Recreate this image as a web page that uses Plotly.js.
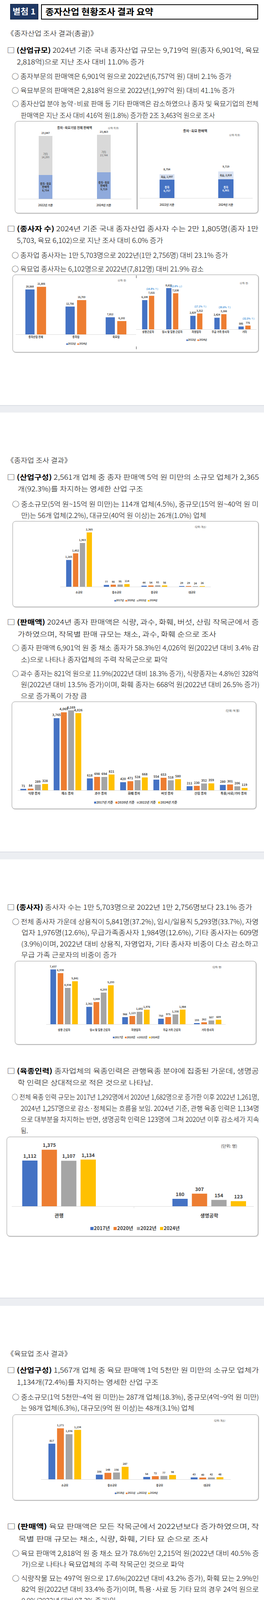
<!DOCTYPE html>
<html><head><meta charset="utf-8">
<script src="https://cdn.plot.ly/plotly-3.0.1.min.js"></script>
<style>
html,body{margin:0;padding:0;background:#fff;}
#page{position:relative;width:675px;height:6685px;overflow:hidden;background:#fff;font-family:"Noto Sans CJK KR","Noto Sans",sans-serif;color:#000;}
.ln{position:absolute;white-space:nowrap;line-height:1;transform-origin:0 50%;font-weight:300;}
.ln b{font-weight:700;}
.box{position:absolute;box-sizing:border-box;border:1.3px solid #9b9b9b;border-radius:8px;box-shadow:1px 1px 2px rgba(0,0,0,0.25);background:#fff;}
.band{position:absolute;left:0;width:675px;background:#eceef2;border-top:2px solid #dcdfe5;box-sizing:border-box;}
.chart{position:absolute;}
.rect{position:absolute;box-sizing:border-box;}
</style></head><body><div id="page"></div>
<script>
// ================= DATA =================
// 종자·육묘기업 전체 판매액 (억 원)
const totalSalesYears = ['2022년 기준', '2024년 기준'];
const totalSalesSeedSeedling = [8754, 9719];
const totalSalesOther = [14293, 13744];
// 종자·육묘 판매액 (억 원)
const salesYears = ['2022년 기준', '2024년 기준'];
const seedSales = [6757, 6901];
const seedlingSales = [1997, 2818];
// 종사자 수 (명)
const workerYears = ['2022년', '2024년'];
const workerIndustry = ['종자산업 전체', '종자업', '육묘업'];
const workerIndustry2022 = [20568, 12756, 7812];
const workerIndustry2024 = [21805, 15703, 6102];
const workerTypes = ['상용근로자', '임시 및 일용 근로자', '자영업자', '무급 가족 종사자', '기타'];
const workerType2022 = [6108, 8622, 2829, 2424, 585];
const workerType2024 = [7015, 7538, 3312, 3166, 775];
const workerTypeChange = ['(14.8% ↑)', '(12.6% ↓)', '(17.1% ↑)', '(30.6% ↑)', '(32.5% ↑)'];
// 종자업 산업구성 (개소)
const seedYears = ['2017년', '2020년', '2022년', '2024년'];
const firmSizes = ['소규모', '중소규모', '중규모', '대규모'];
const seedFirms2017 = [1165, 77, 44, 29];
const seedFirms2020 = [1452, 90, 54, 29];
const seedFirms2022 = [1903, 95, 61, 24];
const seedFirms2024 = [2365, 114, 56, 26];
// 종자 작목별 판매액 (억 원)
const seedSalesYears = ['2017년 기준', '2020년 기준', '2022년 기준', '2024년 기준'];
const seedCrops = ['식량 종자', '채소 종자', '과수 종자', '화훼 종자', '버섯 종자', '산림 종자', '특용/사료/기타 종자'];
const seedCrop2017 = [71, 3765, 618, 420, 554, 211, 280];
const seedCrop2020 = [84, 4069, 698, 471, 653, 230, 301];
const seedCrop2022 = [289, 4169, 694, 528, 518, 352, 206];
const seedCrop2024 = [328, 4026, 821, 668, 580, 359, 119];
// 종자업 종사자 (명)
const seedWorkerTypes = ['상용 근로자', '임시 및 일용 근로자', '자영업자', '무급 가족 근로자', '기타 종사자'];
const seedWorker2017 = [7437, 2361, 966, 750, 155];
const seedWorker2020 = [6930, 3009, 1123, 975, 262];
const seedWorker2022 = [4934, 4293, 1692, 1330, 507];
const seedWorker2024 = [5841, 5293, 1976, 1984, 609];
// 육종인력 (명)
const breederTypes = ['관행', '생명공학'];
const breeder2017 = [1112, 180];
const breeder2020 = [1375, 307];
const breeder2022 = [1107, 154];
const breeder2024 = [1134, 123];
// 육묘업 산업구성 (개소)
const seedlingYears = ['2018년', '2021년', '2022년', '2024년'];
const seedlingFirms2018 = [817, 106, 54, 43];
const seedlingFirms2021 = [1171, 148, 72, 40];
const seedlingFirms2022 = [1036, 156, 77, 42];
const seedlingFirms2024 = [1134, 287, 98, 48];
// 육묘 작목별 판매액 (억 원)
const seedlingCrops = ['식량', '채소', '화훼', '기타'];
const seedlingCrop2018 = [257, 1334, 42, 0];
const seedlingCrop2021 = [286, 1564, 114, 25];
const seedlingCrop2022 = [347, 1577, 61, 12];
const seedlingCrop2024 = [497, 2215, 82, 24];
// 육묘업 종사자 (명)
const seedlingWorkerTypes = ['상용 근로자', '임시 및 일용 근로자', '자영업자', '무급 가족 근로자', '기타'];
const seedlingWorker2018 = [1036, 2316, 922, 948, 73];
const seedlingWorker2021 = [1538, 3447, 1172, 1179, 101];
const seedlingWorker2022 = [1174, 4329, 1137, 1094, 78];
const seedlingWorker2024 = [1174, 2245, 1336, 1181, 166];
const seedlingWorkerUnlabeled = [[0, 1]];
// 생산/품질관리 전문인력 (명)
const expertYears = ['2018년', '2021년', '2022년', '2024년'];
const expertCounts = [2849, 3879, 3737, 3827];

// ================= HELPERS =================
const page = document.getElementById('page');
const FONT = '"Noto Sans CJK KR", "Noto Sans", sans-serif';
const COL = {blue:'#4472C4', orange:'#ED7D31', gray:'#A5A5A5', yellow:'#FFC000'};
const fmt = v => v.toLocaleString('en-US');

function el(cls, x0, y0, x1, y1, style) {
  const d = document.createElement('div'); d.className = cls;
  Object.assign(d.style, {left:x0+'px', top:y0+'px', width:(x1-x0)+'px', height:(y1-y0)+'px'}, style||{});
  page.appendChild(d); return d;
}
function ln(y, x0, x1, fs, html, opt) {
  opt = opt || {};
  const d = document.createElement('div'); d.className = 'ln';
  d.style.left = x0 + 'px'; d.style.top = (y - 0.57*fs) + 'px'; d.style.fontSize = fs + 'px';
  if (opt.bold) d.style.fontWeight = '700';
  if (opt.color) d.style.color = opt.color;
  d.innerHTML = html; d.dataset.w = x1 - x0;
  page.appendChild(d); return d;
}
function legendText(names, colors, fs) {
  return names.map((n, i) => '<span style="color:' + colors[i] + ';font-size:' + (fs*0.8).toFixed(1) + 'px">■</span>' + n).join('\u00a0\u00a0\u00a0');
}

function chart(o) {
  const [bx0, by0, bx1, by1] = o.box, [px0, py0, px1, py1] = o.plot;
  const div = el('chart', bx0, by0, bx1, by1);
  const PX = X => (X - px0) / (px1 - px0), PY = Y => (py1 - Y) / (py1 - py0);
  const ann = [];
  const addP = (X, Y, text, size, extra) => ann.push(Object.assign({
    xref:'paper', yref:'paper', x:PX(X), y:PY(Y), text:text, showarrow:false,
    xanchor:'center', yanchor:'middle', font:{family:FONT, size:size, color:'#404040'}}, extra||{}));
  if (o.unit) addP(o.unit[0], o.unit[1], o.unit[2], o.unit[3], {font:{family:FONT,size:o.unit[3],color:'#404040',weight:o.unitBold?700:400}});
  if (o.title) addP(o.title[0], o.title[1], o.title[2], o.title[3], {font:{family:FONT,size:o.title[3],color:'#404040',weight:700}});
  if (o.legend) addP(o.legend.x, o.legend.y, legendText(o.legend.names, o.legend.colors, o.legend.fs), o.legend.fs,
      {font:{family:FONT,size:o.legend.fs,color:'#404040',weight:700}});
  (o.extra || []).forEach(a => ann.push(a));
  const layout = {
    width: bx1 - bx0, height: by1 - by0,
    margin: {l: px0 - bx0, r: bx1 - px1, t: py0 - by0, b: by1 - py1, pad: 0},
    paper_bgcolor: 'rgba(0,0,0,0)', plot_bgcolor: 'rgba(0,0,0,0)',
    barmode: o.mode || 'group', bargap: o.bargap, bargroupgap: o.bgg || 0,
    showlegend: false, font: {family: FONT},
    xaxis: {type:'category', showline:true, linecolor:'#d9d9d9', linewidth:1, showgrid:false, zeroline:false,
      ticks: o.ticks ? 'outside' : '', ticklen: o.ticks || 0, tickcolor:'#d9d9d9', tickwidth:1,
      tickfont: {family:FONT, size:o.xfs, color:o.xcolor || '#404040', weight:700},
      ticklabelstandoff: o.xstand, fixedrange: true, automargin: false},
    yaxis: {range: [0, o.ymax], visible: false, fixedrange: true},
    annotations: ann
  };
  if (o.range) layout.xaxis.range = o.range;
  if (o.ticks) layout.xaxis.tickson = 'boundaries';
  Plotly.newPlot(div, o.traces, layout, {staticPlot: true, displayModeBar: false});
}
function barSeries(cats, series, lfs, noLabel, lcolor) {
  return series.map((s, si) => ({
    type:'bar', x:cats, y:s.vals, name:s.name, marker:{color:s.color, line:{width:0}},
    text: s.vals.map((v, ci) => (noLabel || []).some(p => p[0] === si && p[1] === ci) ? '' : fmt(v)),
    textposition:'outside', textangle:0, constraintext:'none', cliponaxis:false,
    textfont:{family:FONT, size:lfs, color:lcolor || '#404040', weight:700}, hoverinfo:'skip'
  }));
}
const four = [COL.blue, COL.orange, COL.gray, COL.yellow];

// ================= PAGE DECOR =================
[[1037,1056],[2180,2200],[3322,3343],[4466,4487],[5610,5630]].forEach(b => el('band', 0, b[0], 675, b[1]));

function header(y0, y1, label, title, titleRight) {
  el('rect', 26, y0, 98, y1, {background:'#1f3864', border:'1px solid #0d1a33'});
  ln((y0+y1)/2, 32, 91, 20, label, {bold:true, color:'#fff'});
  el('rect', 105, y0+1, 660, y1, {border:'2px solid #000', background:'#fff'});
  ln((y0+y1)/2, 116, titleRight, 22, title, {bold:true});
}
header(10, 50, '별첨 1', '종자산업 현황조사 결과 요약', 392);

// ================= TEXT =================
const FS = 17.5;
const T = [
 [86, 17, 250, '《종자산업 조사 결과(총괄)》'],
 [129, 18, 663, '□ <b>(산업규모)</b> 2024년 기준 국내 종자산업 규모는 9,719억 원(종자 6,901억, 육묘'],
 [159, 43, 369, '2,818억)으로 지난 조사 대비 11.0% 증가'],
 [196, 30, 592, '○ 종자부문의 판매액은 6,901억 원으로 2022년(6,757억 원) 대비 2.1% 증가'],
 [232, 30, 600, '○ 육묘부문의 판매액은 2,818억 원으로 2022년(1,997억 원) 대비 41.1% 증가'],
 [266, 31, 661, '○ 종자산업 분야 농약·비료 판매 등 기타 판매액은 감소하였으나 종자 및 육묘기업의 전체'],
 [296, 52.5, 549, '판매액은 지난 조사 대비 416억 원(1.8%) 증가한 2조 3,463억 원으로 조사'],
 [586, 18, 661, '□ <b>(종사자 수)</b> 2024년 기준 국내 종자산업 종사자 수는 2만 1,805명(종자 1만'],
 [616, 43, 417, '5,703, 육묘 6,102)으로 지난 조사 대비 6.0% 증가'],
 [654, 30, 583, '○ 종자업 종사자는 1만 5,703명으로 2022년(1만 2,756명) 대비 23.1% 증가'],
 [689, 30, 521, '○ 육묘업 종사자는 6,102명으로 2022년(7,812명) 대비 21.9% 감소'],
 // page 2
 [1179, 17, 183, '《종자업 조사 결과》'],
 [1222, 18, 662, '□ <b>(산업구성)</b> 2,561개 업체 중 종자 판매액 5억 원 미만의 소규모 업체가 2,365'],
 [1252, 45, 366, '개(92.3%)를 차지하는 영세한 산업 구조'],
 [1291, 31, 661, '○ 중소규모(5억 원~15억 원 미만)는 114개 업체(4.5%), 중규모(15억 원~40억 원 미'],
 [1320, 54, 527, '만)는 56개 업체(2.2%), 대규모(40억 원 이상)는 26개(1.0%) 업체'],
 [1593, 18, 662, '□ <b>(판매액)</b> 2024년 종자 판매액은 식량, 과수, 화훼, 버섯, 산림 작목군에서 증'],
 [1624, 45, 553, '가하였으며, 작목별 판매 규모는 채소, 과수, 화훼 순으로 조사'],
 [1659, 31, 662, '○ 종자 판매액 6,901억 원 중 채소 종자가 58.3%인 4,026억 원(2022년 대비 3.4% 감'],
 [1689, 52.5, 428, '소)으로 나타나 종자업체의 주력 작목군으로 파악'],
 [1725, 31, 661, '○ 과수 종자는 821억 원으로 11.9%(2022년 대비 18.3% 증가), 식량종자는 4.8%인 328억'],
 [1753, 52.5, 663, '원(2022년 대비 13.5% 증가)이며, 화훼 종자는 668억 원(2022년 대비 26.5% 증가)'],
 [1782, 52.5, 222, '으로 증가폭이 가장 큼'],
 // page 3
 [2323, 18, 645, '□ <b>(종사자)</b> 종사자 수는 1만 5,703명으로 2022년 1만 2,756명보다 23.1% 증가'],
 [2360, 31, 661, '○ 전체 종사자 가운데 상용직이 5,841명(37.2%), 임시/일용직 5,293명(33.7%), 자영'],
 [2388, 55, 661, '업자 1,976명(12.6%), 무급가족종사자 1,984명(12.6%), 기타 종사자는 609명'],
 [2417, 54, 661, '(3.9%)이며, 2022년 대비 상용직, 자영업자, 기타 종사자 비중이 다소 감소하고'],
 [2445, 54, 298, '무급 가족 근로자의 비중이 증가'],
 [2742, 18, 662, '□ <b>(육종인력)</b> 종자업체의 육종인력은 관행육종 분야에 집중된 가운데, 생명공'],
 [2772, 45, 391, '학 인력은 상대적으로 적은 것으로 나타남.'],
 [2809, 30, 662, '○ 전체 육종 인력 규모는 2017년 1,292명에서 2020년 1,682명으로 증가한 이후 2022년 1,261명,'],
 [2837.5, 52.5, 662, '2024년 1,257명으로 감소·정체되는 흐름을 보임. 2024년 기준, 관행 육종 인력은 1,134명'],
 [2866, 52.5, 662, '으로 대부분을 차지하는 반면, 생명공학 인력은 123명에 그쳐 2020년 이후 감소세가 지속'],
 [2895, 52.5, 71, '됨.'],
 // page 4
 [3466, 17, 183, '《육묘업 조사 결과》'],
 [3508, 18, 662, '□ <b>(산업구성)</b> 1,567개 업체 중 육묘 판매액 1억 5천만 원 미만의 소규모 업체가'],
 [3538.6, 43, 405, '1,134개(72.4%)를 차지하는 영세한 산업 구조'],
 [3577, 31, 662, '○ 중소규모(1억 5천만~4억 원 미만)는 287개 업체(18.3%), 중규모(4억~9억 원 미만)'],
 [3605, 52.5, 496, '는 98개 업체(6.3%), 대규모(9억 원 이상)는 48개(3.1%) 업체'],
 [3908, 18, 662, '□ <b>(판매액)</b> 육묘 판매액은 모든 작목군에서 2022년보다 증가하였으며, 작'],
 [3940, 46.5, 532, '목별 판매 규모는 채소, 식량, 화훼, 기타 묘 순으로 조사'],
 [3977, 31, 662, '○ 육묘 판매액 2,818억 원 중 채소 묘가 78.6%인 2,215억 원(2022년 대비 40.5% 증'],
 [4005, 55, 471, '가)으로 나타나 육묘업체의 주력 작목군인 것으로 파악'],
 [4041, 31, 662, '○ 식량작물 묘는 497억 원으로 17.6%(2022년 대비 43.2% 증가), 화훼 묘는 2.9%인'],
 [4069, 55, 662, '82억 원(2022년 대비 33.4% 증가)이며, 특용·사료 등 기타 묘의 경우 24억 원으로'],
 [4097.5, 55, 296, '0.9%(2022년 대비 97.3% 증가)임'],
 // page 5
 [4608.6, 18, 642, '□ <b>(종사자)</b> 육묘업체 종사자 수는 6,102명으로 2022년 7,812명보다 21.9% 감소'],
 [4646, 31, 662, '○ 전체 종사자 가운데 상용직이 1,174명(19.2%), 임시/일용직 2,245명(36.8%), 자영'],
 [4675, 55, 662, '업자 1,336명(21.9%), 무급가족종사자 1,181명(19.4%)이며, 2022년과 비교하면 임시 및'],
 [4703, 55, 662, '일용근로자의 비중은 감소하고, 상용직, 자영업자, 무급가족종사자와 기타 종사자의 비중'],
 [4732, 54, 105, '은증가'],
 [5119, 18, 662, '□ <b>(육묘 전문인력)</b> 육묘업체에서 묘 생산과 품질 관리를 담당하는 전문인력은 확'],
 [5150, 45, 618, '대되며 기술적 역량은 강화되는 추세이나, 연령 구조는 점차 고령화되는 양상'],
 [5186, 31, 662, '○ 육묘업체의 묘 생산 및 품질관리 전문인력은 3,827명으로 2022년 대비(3,737명) 2.4% 증가'],
 [5215, 56, 543, '하였으나, 60세 이상 비중이 53.3%로 2022년 대비(47.0%) 6.3%p 상승함']
];
T.forEach(t => ln(t[0], t[1], t[2], FS, t[3]));

// ================= CHART BOXES =================
el('box', 38, 310, 660, 546);
el('rect', 350, 314, 351, 536, {background:'#333'});
el('box', 32, 703, 661, 902);
el('rect', 348, 705, 349, 712, {background:'#333'});
el('rect', 348, 887, 349, 894, {background:'#333'});
el('box', 32, 1334, 661, 1554);
el('box', 30, 1796, 655, 2071);
el('box', 38, 2460, 655, 2674);
el('box', 17, 2910, 660, 3165);
el('box', 32, 3621, 661, 3841);
el('box', 30, 4113, 655, 4356);
el('box', 38, 4746, 655, 5020);
el('box', 17, 5230, 660, 5492);

// ---- Chart 1 (stacked): 종자·육묘기업 전체 판매액
chart({
  box:[38,310,350,546], plot:[46,330,336,509], ymax:25657, mode:'stack', bargap:0.765, range:[-0.473,1.473],
  xfs:7, xstand:10,
  traces:[
    {type:'bar', x:totalSalesYears, y:totalSalesSeedSeedling, name:'종자·육묘 판매액', marker:{color:'#8FAADC'},
     text: totalSalesSeedSeedling.map(v => '종자·육묘<br>판매액<br>' + fmt(v)), textposition:'inside', insidetextanchor:'middle',
     textangle:0, constraintext:'none', insidetextfont:{family:FONT,size:6.5,color:'#333',weight:700}, hoverinfo:'skip'},
    {type:'bar', x:totalSalesYears, y:totalSalesOther, name:'기타', marker:{color:'#D9D9D9'},
     text: totalSalesOther.map(v => '기타<br>' + fmt(v)), textposition:'inside', insidetextanchor:'middle',
     textangle:0, constraintext:'none', insidetextfont:{family:FONT,size:6.5,color:'#555',weight:400}, hoverinfo:'skip'}
  ],
  title:[190, 326, '종자·육묘기업 전체 판매액', 8], unit:[290, 328, '(단위: 억 원)', 5.5],
  extra: totalSalesYears.map((c, i) => ({xref:'x', yref:'y', x:c, y:totalSalesSeedSeedling[i] + totalSalesOther[i],
     text: fmt(totalSalesSeedSeedling[i] + totalSalesOther[i]), showarrow:false, yanchor:'bottom', yshift:1,
     font:{family:FONT,size:6.5,color:'#404040',weight:700}}))
});
// ---- Chart 2 (stacked): 종자·육묘 판매액
chart({
  box:[350,310,660,546], plot:[357,330,646,507], ymax:25250, mode:'stack', bargap:0.747, range:[-0.465,1.455],
  xfs:7, xstand:11,
  traces:[
    {type:'bar', x:salesYears, y:seedSales, name:'종자', marker:{color:COL.blue},
     text: seedSales.map(v => '종자<br>' + fmt(v)), textposition:'inside', insidetextanchor:'middle',
     textangle:0, constraintext:'none', insidetextfont:{family:FONT,size:6.5,color:'#fff',weight:700}, hoverinfo:'skip'},
    {type:'bar', x:salesYears, y:seedlingSales, name:'육묘', marker:{color:'#DAE3F3'},
     text: seedlingSales.map(v => '육묘, ' + fmt(v)), textposition:'inside', insidetextanchor:'middle',
     textangle:0, constraintext:'none', insidetextfont:{family:FONT,size:6,color:'#333',weight:700}, hoverinfo:'skip'}
  ],
  title:[499, 334, '종자·육묘 판매액', 8.5], unit:[600, 346, '(단위: 억 원)', 5.5],
  extra: salesYears.map((c, i) => ({xref:'x', yref:'y', x:c, y:seedSales[i] + seedlingSales[i],
     text: fmt(seedSales[i] + seedlingSales[i]), showarrow:false, yanchor:'bottom', yshift:6,
     font:{family:FONT,size:6.5,color:'#404040',weight:700}}))
});
// ---- Chart 3a: 종사자 (산업)
chart({
  box:[32,703,348,902], plot:[40,720,348,856], ymax:24334, bargap:0.426, bgg:0.203, xfs:6.5, xstand:4.5,
  traces: barSeries(workerIndustry, [{name:workerYears[0], vals:workerIndustry2022, color:COL.blue},
                                     {name:workerYears[1], vals:workerIndustry2024, color:COL.orange}], 6, null, '#333'),
  unit:[312, 718, '(단위: 명)', 5.5],
  legend:{x:196, y:879, fs:6, names:workerYears, colors:[COL.blue, COL.orange]}
});
// ---- Chart 3b: 종사자 (유형)
chart({
  box:[348,703,661,902], plot:[348,722,656,843], ymax:9898, bargap:0.432, bgg:0.229, xfs:6.5, xstand:6.5,
  traces: barSeries(workerTypes, [{name:workerYears[0], vals:workerType2022, color:COL.blue},
                                  {name:workerYears[1], vals:workerType2024, color:COL.orange}], 6, null, '#333'),
  unit:[624, 725, '(단위: 명)', 5.5],
  legend:{x:502, y:869, fs:6, names:workerYears, colors:[COL.blue, COL.orange]},
  extra: workerTypes.map((c, i) => ({xref:'x', yref:'y', x:c, y:workerType2024[i], text:workerTypeChange[i],
     showarrow:false, xshift:10, yshift:18, yanchor:'middle', font:{family:FONT,size:6,color:'#3d8fd6',weight:700}}))
});
// ---- Chart 4: 종자업 산업구성
chart({
  box:[32,1334,661,1554], plot:[154,1352,539,1502], ymax:2550, bargap:0.273, bgg:0.229, xfs:6.5, xstand:8,
  traces: barSeries(firmSizes, [seedFirms2017, seedFirms2020, seedFirms2022, seedFirms2024].map((v, i) =>
            ({name:seedYears[i], vals:v, color:four[i]})), 6.5),
  unit:[512, 1349, '(단위: 개소)', 6],
  legend:{x:347, y:1536, fs:6, names:seedYears, colors:four}
});
// ---- Chart 5: 종자 작목별 판매액
chart({
  box:[30,1796,655,2071], plot:[45,1808,640,2023], ymax:4385, bargap:0.129, bgg:0.19, xfs:8, xstand:8.4,
  traces: barSeries(seedCrops, [seedCrop2017, seedCrop2020, seedCrop2022, seedCrop2024].map((v, i) =>
            ({name:seedSalesYears[i], vals:v, color:four[i]})), 8),
  unit:[595, 1819, '(단위: 억 원)', 7],
  legend:{x:347, y:2053, fs:8, names:seedSalesYears, colors:four}
});
// ---- Chart 6: 종자업 종사자
chart({
  box:[38,2460,655,2674], plot:[118,2472,577,2622], ymax:7957, bargap:0.194, bgg:0.216, xfs:6.5, xstand:8,
  traces: barSeries(seedWorkerTypes, [seedWorker2017, seedWorker2020, seedWorker2022, seedWorker2024].map((v, i) =>
            ({name:seedYears[i], vals:v, color:four[i]})), 6.5),
  unit:[555, 2475, '(단위: 명)', 6],
  legend:{x:347, y:2655, fs:6.5, names:seedYears, colors:four}
});
// ---- Chart 7: 육종인력
chart({
  box:[17,2910,660,3165], plot:[30,2925,649,3088], ymax:1548, range:[-0.315,1.297], bargap:0.482, bgg:0.215,
  xfs:12.5, xstand:13, ticks:4,
  traces: barSeries(breederTypes, [breeder2017, breeder2020, breeder2022, breeder2024].map((v, i) =>
            ({name:seedYears[i], vals:v, color:four[i]})), 12.5),
  unit:[585, 2933, '(단위: 명)', 10.5],
  legend:{x:345, y:3143.6, fs:12.5, names:seedYears, colors:four}
});
// ---- Chart 8: 육묘업 산업구성
chart({
  box:[32,3621,661,3841], plot:[105,3645,590,3787], ymax:1273, bargap:0.274, bgg:0.205, xfs:6.5, xstand:9,
  traces: barSeries(firmSizes, [seedlingFirms2018, seedlingFirms2021, seedlingFirms2022, seedlingFirms2024].map((v, i) =>
            ({name:seedlingYears[i], vals:v, color:four[i]})), 6.5),
  unit:[561, 3636, '(단위: 개소)', 6],
  legend:{x:348, y:3821, fs:6, names:seedlingYears, colors:four}
});
// ---- Chart 9: 육묘 작목별 판매액
chart({
  box:[30,4113,655,4356], plot:[74,4132,613,4298], ymax:2392, bargap:0.278, bgg:0.206, xfs:8, xstand:10.4,
  traces: barSeries(seedlingCrops, [seedlingCrop2018, seedlingCrop2021, seedlingCrop2022, seedlingCrop2024].map((v, i) =>
            ({name:seedlingYears[i], vals:v, color:four[i]})), 8),
  unit:[581, 4131, '(단위: 억 원)', 7],
  legend:{x:345, y:4337, fs:7.5, names:seedlingYears, colors:four}
});
// ---- Chart 10: 육묘업 종사자
chart({
  box:[38,4746,655,5020], plot:[67,4770,626,4955], ymax:4739, bargap:0.281, bgg:0.204, xfs:9, xstand:11,
  traces: barSeries(seedlingWorkerTypes, [seedlingWorker2018, seedlingWorker2021, seedlingWorker2022, seedlingWorker2024].map((v, i) =>
            ({name:seedlingYears[i], vals:v, color:four[i]})), 8.5, seedlingWorkerUnlabeled),
  unit:[603, 4766, '(단위: 명)', 7.5],
  legend:{x:349, y:4997, fs:8.5, names:seedlingYears, colors:four}
});
// ---- Chart 11: 생산/품질관리
chart({
  box:[17,5230,660,5492], plot:[83,5275,595,5444], ymax:4970, range:[-0.352,3.323], bargap:0.806,
  xfs:13, xstand:9.7, ticks:4, xcolor:'#262626',
  traces: barSeries(expertYears, [{name:'생산/품질관리', vals:expertCounts, color:COL.yellow}], 13, null, '#262626'),
  title:[343, 5253.6, '생산/품질관리', 16], unit:[547, 5257, '(단위: 명)', 11], unitBold:true
});

// ================= PAGE 6 =================
header(5727, 5767, '별첨 2', '종자산업 현황조사(종자업,육묘업 실태조사) 개요', 579);
el('rect', 22, 5783, 657, 6659, {border:'1.5px solid #000'});
ln(5812.5, 24, 125, 17.5, '□ 관련 근거');
ln(5847.5, 35, 369, 17.5, '○ 종자산업법 제4조(통계 작성 및 실태조사)');
el('rect', 35, 5862, 657, 5944, {border:'1.5px solid #333', background:'#ebebeb'});
ln(5872.5, 42, 245, 12.5, '제4조(통계 작성 및 실태조사)', {bold:true});
ln(5895, 42, 651, 12.5, '① 농림축산식품부장관은 종합계획 및 시행계획을 효율적으로 수립·추진하는 등 종자산업 육');
ln(5915, 65.4, 651, 12.5, '성정책에 필요한 기초자료를 확보하기 위하여 종자산업에 관한 통계를 작성하거나 실태조');
ln(5934.6, 65.4, 651, 12.5, '사를 실시할 수 있다. 이 경우 종자산업에 관한 통계를 작성할 때에는 「통계법」을 준용');
ln(5952, 65.4, 92.5, 12.5, '한다.');
ln(5961, 38, 451, 13.5, '* 종자산업 현황조사에는 ‘종자업 실태조사’ 및 ‘육묘업 실태조사’가 있음');
ln(5987.5, 30, 656, 13.5, '※ 추진경과: (‘13) 실태조사법제화, (‘16) 1차종자업 실태조사, (‘17) 2차종자업, 육묘업법제화, (‘18) 3차 종자업, (‘19) 1차 육');
ln(6008, 110, 656, 13.5, '묘업, (‘21) 4차 종자업, (‘22) 2차 육묘업, (‘23) 5차 종자업+3차 육묘업 통합 실시, (‘25) 6차 종자업+4차 육');
ln(6030, 110, 187, 13.5, '묘업 통합실시');
ln(6070, 24, 209, 17.5, '□ 2025년도 조사 개요');
ln(6104, 35, 538, 17.5, '○ 조사대상: ‘24. 12. 31. 기준 종자산업법에 따른 종자업.육묘업 등록업체');
ln(6139, 35, 316, 17.5, '○ 대상기간: ‘24. 1. 1. ~ 12. 31.(1년간)');
ln(6175, 35, 260, 17.5, '○ 실시기간: ‘25. 7. 25. ~ 9. 30.');
ln(6212, 35, 313, 17.5, '○ 조사방법: 조사원에 의한 면접조사');
ln(6248, 35, 591, 17.5, '○ 조사규모: 종자업체 2,688개<span style="font-size:11px">(2,561업체 응답(95.3%))</span>, 육묘업체 1,594개<span style="font-size:11px">(1,567업체 응답(98.3%))</span>');
ln(6282, 35, 546, 17.5, '○ 조사항목: 46항목(종자업 실태조사 28항목, 육묘업 실태조사 18항목)');

// table
const HB = '#dce6f1';
el('rect', 24, 6306, 62, 6655, {background:HB});
el('rect', 62, 6306, 655, 6323, {background:HB});
el('rect', 62, 6508, 655, 6526, {background:HB});
const hline = (y, x0, x1, h) => el('rect', x0, y, x1, y + h, {background:'#000'});
const vline = (x, y0, y1) => el('rect', x, y0, x + 1, y1, {background:'#000'});
hline(6305, 24, 655, 2.5); hline(6323, 62, 655, 1); hline(6506.5, 24, 655, 2); hline(6525.5, 62, 655, 1); hline(6653.5, 24, 655, 2.5);
vline(62, 6306, 6655); vline(235, 6306, 6655); vline(444, 6323, 6507); vline(444, 6526, 6655);
const tfs = 13;
ln(6314.5, 103, 190, tfs, '관리항목(9)', {bold:true});
ln(6314.5, 366, 524, tfs, '사업내용 및 실적 항목(19)', {bold:true});
ln(6517, 103, 190, tfs, '관리항목(7)', {bold:true});
ln(6517, 366, 524, tfs, '사업내용 및 실적 항목(11)', {bold:true});
['종','자','업'].forEach((c, i) => ln(6389 + i*17.8, 36, 49, tfs, c, {bold:true}));
['육','묘','업'].forEach((c, i) => ln(6560 + i*20, 36, 49, tfs, c, {bold:true}));
const seedItems1 = ['① 업체명','② 대표자명','③ 대표자 성별','④ 조직형태','⑤ 지사(점) 유무','⑥ 사업자등록번호','⑦ 사업운영형태','⑧ 사업내용','⑨ 취급종자 작목군'];
const seedItems2 = ['⑩ 건물 총 면적','⑪ 종자 연구용 포장면적','⑫ 종사자 수','⑬ 관행육종인력','⑭ 생명공학인력','⑮ 육종여부','⑯ 품종개발투입액','⑰ 육종관련 지원','⑱ 종자판매 여부','⑲ 종자판매 방법'];
const seedItems3 = ['⑳ 유통지역','2 1 판매액','2 2 종자 수출','2 3 종자 수입','2 4 해외채종','2 5 사용료(로열티) 수취 여부','2 6 사용료(로열티) 지급 여부','2 7 지원','㉘ 취급종자(생산량, 판매액)'];
const sdlItems1 = ['① 업체명','② 소재지','③ 대표자명','④ 대표자성별','⑤ 조직형태','⑥ 사업자등록번호','⑦ 사업운영형태'];
const sdlItems2 = ['⑧ 육묘장 면적','⑨ 종사자 수','⑩ 육묘담당인력','⑪ 판매액','⑫ 판매처 비중','⑬ 경영비 비율','⑭ 육묘시설 보유·사용여부'];
const sdlItems3 = ['⑮ 생산관리내용 기록여부','⑯ 외부 협력·지원','⑰ 향후 지원 희망 분야','⑱ 취급묘(생산량, 판매액)'];
function items(list, x, y0, step) {
  list.forEach((t, i) => { const d = ln(y0 + i*step, x, 0, tfs, t); d.dataset.w = ''; d.style.fontWeight = '400'; });
}
items(seedItems1, 69, 6332.4, 17.9); items(seedItems2, 241, 6332.4, 17.9); items(seedItems3, 454, 6332.4, 17.9);
items(sdlItems1, 69, 6535, 18.25); items(sdlItems2, 241, 6535, 18.25); items(sdlItems3, 454, 6535, 18.25);

function fitNow() {
  document.querySelectorAll('.ln').forEach(d => {
    if (!d.dataset.w) return;
    d.style.transform = 'none';
    const w = d.getBoundingClientRect().width, t = +d.dataset.w;
    if (w > 0 && t > 0) d.style.transform = 'scaleX(' + (t / w).toFixed(4) + ')';
  });
}
fitNow();
if (document.fonts && document.fonts.ready) document.fonts.ready.then(fitNow);
</script></body></html>
